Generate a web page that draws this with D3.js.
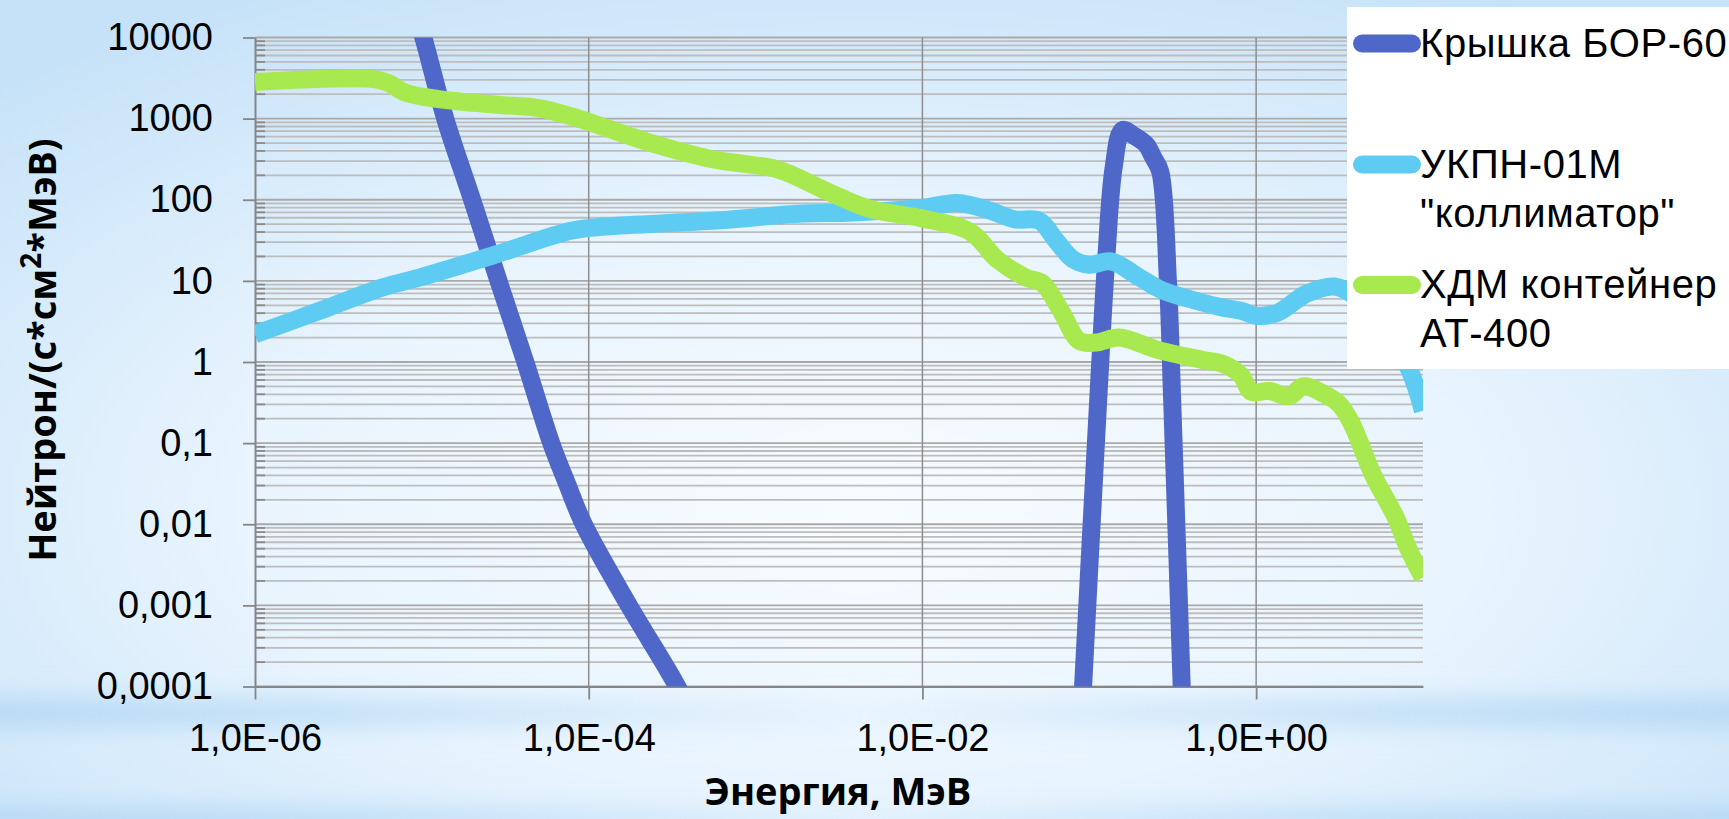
<!DOCTYPE html>
<html>
<head>
<meta charset="utf-8">
<script src="https://cdn.jsdelivr.net/npm/d3@7"></script>
<style>
  html, body { margin: 0; padding: 0; overflow: hidden; background: #e4f2fd; }
  svg { display: block; }
  .axis .tick text { font-family: "Liberation Sans", Arial, sans-serif; font-size: 38px; fill: #000; }
  .axis-title { font-family: "Open Sans", "Noto Sans", sans-serif; font-weight: bold; font-size: 38px; fill: #000; }
  .legend text { font-family: "Liberation Sans", Arial, sans-serif; font-size: 40px; letter-spacing: 0.6px; fill: #000; }
</style>
</head>
<body>
<svg width="1729" height="819"></svg>
<script>
// Энергия, МэВ / поток, нейтрон/(с*см2*МэВ)
const borEnergy = [8.71e-6, 1.02e-5, 1.38e-5, 2.0e-5, 2.88e-5, 4.17e-5, 5.96e-5, 7.41e-5, 9.33e-5, 1.74e-4, 3.39e-4, 4.17e-4,
                   1.0e-2,
                   0.0871, 0.113, 0.127, 0.140, 0.158, 0.182, 0.219, 0.242, 0.266, 0.296, 0.313, 0.358, 0.372];
const borFlux   = [28000, 10000, 1000, 100, 10, 1, 0.1, 0.0316, 0.01, 0.001, 0.0001, 0.00004,
                   null,
                   0.0000126, 0.33, 21.9, 251, 724, 631, 479, 331, 224, 10, 0.4, 0.0001, 0.00001];

const ukpnEnergy = [1.0e-6, 2.51e-6, 5.82e-6, 1.0e-5, 2.82e-5, 7.94e-5, 1.26e-4, 5.5e-4, 1.91e-3, 3.55e-3,
                    0.01, 0.0162, 0.0251, 0.0355, 0.0501, 0.0631, 0.0794, 0.1, 0.135, 0.2, 0.275, 0.427,
                    0.631, 0.813, 1.0, 1.35, 2.0, 2.95, 3.98, 6.03, 8.32, 10];
const ukpnFlux   = [2.19, 4.37, 8.32, 11.2, 21.4, 41.7, 46.8, 55, 67.6, 69.2,
                    79.4, 91.2, 74, 57.5, 55, 31.6, 18.6, 15.8, 17.4, 11, 7.6, 5.75,
                    4.68, 4.27, 3.72, 4.07, 6.92, 8.51, 6.3, 2.5, 0.79, 0.25];

const hdmEnergy = [1.0e-6, 2.51e-6, 5.01e-6, 6.31e-6, 7.94e-6, 1.26e-5, 2.82e-5, 5.01e-5, 8.71e-5, 2.19e-4,
                   5.5e-4, 1.38e-3, 2.57e-3, 4.79e-3, 0.01, 0.0195, 0.0282, 0.0417, 0.0525, 0.0676,
                   0.0871, 0.11, 0.151, 0.257, 0.468, 0.646, 0.813, 0.933, 1.2, 1.58,
                   1.91, 2.57, 3.16, 3.72, 5.01, 6.92, 8.13, 10];
const hdmFlux   = [2820, 3090, 3090, 2750, 2090, 1740, 1480, 1350, 1000, 525,
                   316, 234, 132, 77.6, 58.9, 39.8, 18.2, 11, 9.33, 4.27,
                   1.82, 1.74, 2.0, 1.41, 1.07, 0.93, 0.68, 0.43, 0.44, 0.38,
                   0.5, 0.4, 0.3, 0.178, 0.041, 0.0117, 0.0051, 0.0022];

const legendLines  = [["Крышка БОР-60"], ["УКПН-01М", "\"коллиматор\""], ["ХДМ контейнер", "АТ-400"]];
const seriesColors = ["#4f67c8", "#5ecbf2", "#a8e94f"];

const yTickValues = [1e-4, 1e-3, 1e-2, 1e-1, 1, 10, 100, 1000, 10000];
const yTickLabels = ["0,0001", "0,001", "0,01", "0,1", "1", "10", "100", "1000", "10000"];
const xTickValues = [1e-6, 1e-4, 1e-2, 1];
const xTickLabels = ["1,0E-06", "1,0E-04", "1,0E-02", "1,0E+00"];

const svg = d3.select("svg");
const W = 1729, H = 819;
const plot = { left: 255, right: 1423, top: 37.5, bottom: 686.5 };

const x = d3.scaleLog().domain([1e-6, 10]).range([plot.left, plot.right]);
const y = d3.scaleLog().domain([1e-4, 1e4]).range([plot.bottom, plot.top]);

// ---- background (slide gradient) ----
const defs = svg.append("defs");
const glow = defs.append("radialGradient").attr("id", "bgGlow")
    .attr("cx", 0.5).attr("cy", 0.62).attr("r", 0.72);
glow.append("stop").attr("offset", 0).attr("stop-color", "#f8fcff");
glow.append("stop").attr("offset", 0.5).attr("stop-color", "#e8f4fe");
glow.append("stop").attr("offset", 1).attr("stop-color", "#c6e2f8");

const band = defs.append("linearGradient").attr("id", "bandGrad");
[[0, 1], [0.2, 0.75], [0.5, 0.1], [0.8, 0.75], [1, 1]].forEach(([o, a]) =>
    band.append("stop").attr("offset", o).attr("stop-color", "#b3d7f4").attr("stop-opacity", a));

defs.append("filter").attr("id", "blur").attr("x", -0.2).attr("y", -2).attr("width", 1.4).attr("height", 5)
    .append("feGaussianBlur").attr("stdDeviation", 12);

defs.append("clipPath").attr("id", "plotClip").append("rect")
    .attr("x", plot.left).attr("y", plot.top)
    .attr("width", plot.right - plot.left).attr("height", plot.bottom - plot.top);

svg.append("rect").attr("width", W).attr("height", H).attr("fill", "url(#bgGlow)");
svg.append("rect").attr("x", -50).attr("y", 700).attr("width", W + 100).attr("height", 26)
    .attr("fill", "url(#bandGrad)").attr("filter", "url(#blur)");
svg.append("rect").attr("x", -50).attr("y", 808).attr("width", W + 100).attr("height", 30)
    .attr("fill", "url(#bandGrad)").attr("filter", "url(#blur)");

// ---- grid ----
const grid = svg.append("g");
const yGrid = y.ticks();
grid.selectAll(".hgrid")
    .data(yGrid)
    .enter().append("line")
    .attr("x1", plot.left).attr("x2", plot.right)
    .attr("y1", d => y(d)).attr("y2", d => y(d))
    .attr("stroke", d => yTickValues.includes(d) ? "#a9a9a9" : "#bdbdbd")
    .attr("stroke-width", 1.8);

grid.selectAll(".vgrid")
    .data(xTickValues.slice(1))
    .enter().append("line")
    .attr("x1", d => x(d)).attr("x2", d => x(d))
    .attr("y1", plot.top).attr("y2", plot.bottom)
    .attr("stroke", "#8e8e8e")
    .attr("stroke-width", 1.5);

// minor ticks on the y axis, inside the plot
grid.selectAll(".minor")
    .data(yGrid.filter(d => !yTickValues.includes(d)))
    .enter().append("line")
    .attr("x1", plot.left).attr("x2", plot.left + 10)
    .attr("y1", d => y(d)).attr("y2", d => y(d))
    .attr("stroke", "#8a8a8a")
    .attr("stroke-width", 1.8);

// ---- axes ----
svg.append("g")
    .attr("class", "axis")
    .attr("transform", `translate(${plot.left},0)`)
    .call(d3.axisLeft(y).tickValues(yTickValues)
        .tickFormat((d, i) => yTickLabels[i])
        .tickSize(12).tickSizeOuter(0).tickPadding(30));

svg.append("g")
    .attr("class", "axis")
    .attr("transform", `translate(0,${plot.bottom})`)
    .call(d3.axisBottom(x).tickValues(xTickValues)
        .tickFormat((d, i) => xTickLabels[i])
        .tickSize(13).tickSizeOuter(0).tickPadding(25));

svg.selectAll(".axis path.domain").attr("stroke", "#868686").attr("stroke-width", 2);
svg.selectAll(".axis .tick line").attr("stroke", "#868686").attr("stroke-width", 1.8);

// ---- series (smoothed like Excel) ----
const series = [
    { energy: borEnergy, flux: borFlux },
    { energy: ukpnEnergy, flux: ukpnFlux },
    { energy: hdmEnergy, flux: hdmFlux }
];

const line = d3.line()
    .defined(d => d[1] !== null)
    .x(d => x(d[0]))
    .y(d => y(d[1]))
    .curve(d3.curveCatmullRom.alpha(0.5));

const lines = svg.append("g").attr("clip-path", "url(#plotClip)");
series.forEach((s, i) => {
    lines.append("path")
        .datum(s.energy.map((e, j) => [e, s.flux[j]]))
        .attr("fill", "none")
        .attr("stroke", seriesColors[i])
        .attr("stroke-width", 18)
        .attr("stroke-linejoin", "round")
        .attr("d", line);
});

// ---- axis titles ----
svg.append("text")
    .attr("class", "axis-title")
    .attr("x", 838).attr("y", 805)
    .attr("text-anchor", "middle")
    .text("Энергия, МэВ");

const yTitle = svg.append("text")
    .attr("class", "axis-title")
    .attr("font-size", 40)
    .attr("text-anchor", "middle")
    .attr("transform", "translate(56,350) rotate(-90)");
yTitle.append("tspan").text("Нейтрон/(с*см");
yTitle.append("tspan").attr("dy", -15).attr("font-size", 28).text("2");
yTitle.append("tspan").attr("dy", 15).text("*МэВ)");

// ---- legend ----
const legend = svg.append("g").attr("class", "legend");
legend.append("rect")
    .attr("x", 1347).attr("y", 7)
    .attr("width", 420).attr("height", 362)
    .attr("fill", "#ffffff");

const legendY = [43.5, 164.5, 285];
legendLines.forEach((rows, i) => {
    legend.append("line")
        .attr("x1", 1362).attr("x2", 1412)
        .attr("y1", legendY[i]).attr("y2", legendY[i])
        .attr("stroke", seriesColors[i])
        .attr("stroke-width", 18)
        .attr("stroke-linecap", "round");
    rows.forEach((t, k) => {
        legend.append("text")
            .attr("x", 1420)
            .attr("y", legendY[i] + 13 + k * 49)
            .text(t);
    });
});
</script>
</body>
</html>
